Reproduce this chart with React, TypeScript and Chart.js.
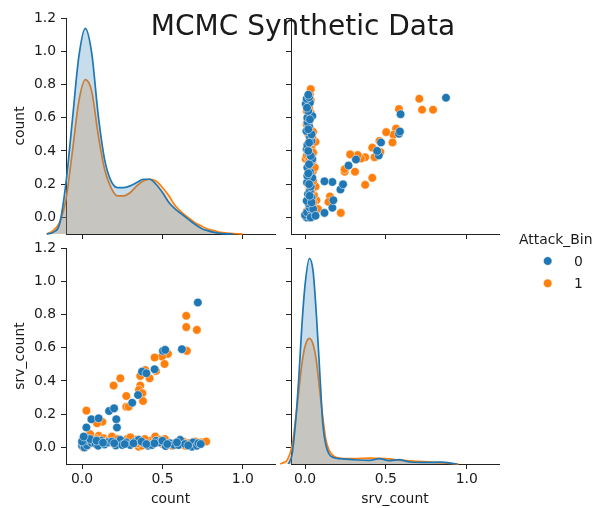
import React, { useEffect, useRef } from 'react';
import { Chart, registerables } from 'chart.js';

Chart.register(...registerables);

// ---------------- text ----------------
const TITLE = 'MCMC Synthetic Data';
const VAR_COUNT = 'count';
const VAR_SRV = 'srv_count';
const HUE_TITLE = 'Attack_Bin';
const HUE_LEVELS = ['0', '1'];

// ---------------- ticks / limits ----------------
const X_TICKS = [0, 0.5, 1.0];
const Y_TICKS = [0, 0.2, 0.4, 0.6, 0.8, 1.0, 1.2];
const COUNT_LIMITS = [-0.1, 1.2];
const SRV_LIMITS = [-0.087, 1.2];
const ROW_LIMITS = [-0.1, 1.2];

// ---------------- scatter data (Attack_Bin = 0) ----------------
const COUNT_0 = [
  0.72, 0.621, 0.503, 0.517, 0.451, 0.373, 0.4, 0.348, 0.312, 0.168, 0.199, 0.213, 0.217, 0.058, 0.103, 0.027,
  0.0, 0.005, 0.01, 0.015, 0.02, 0.025, 0.03, 0.041, 0.06, 0.083, 0.1, 0.12, 0.14, 0.16, 0.186, 0.21, 0.238,
  0.25, 0.275, 0.3, 0.33, 0.352, 0.383, 0.41, 0.435, 0.46, 0.482, 0.52, 0.548, 0.572, 0.6, 0.61, 0.64, 0.683,
  0.69, 0.714, 0.723, 0.738,
  0.05, 0.09, 0.13, 0.2, 0.265, 0.32, 0.37, 0.4, 0.45, 0.5, 0.53, 0.59, 0.66, 0.0, 0.01,
];
const SRV_0 = [
  0.872, 0.591, 0.581, 0.587, 0.47, 0.456, 0.446, 0.315, 0.269, 0.219, 0.235, 0.169, 0.12, 0.169, 0.175, 0.12,
  0.01, 0.045, 0.02, 0.0, 0.06, 0.03, 0.012, 0.04, 0.028, 0.022, 0.01, 0.04, 0.018, 0.03, 0.035, 0.012, 0.045,
  0.014, 0.03, 0.014, 0.035, 0.045, 0.025, 0.01, 0.014, 0.04, 0.03, 0.008, 0.025, 0.015, 0.014, 0.045, 0.02, 0.004,
  0.03, 0.01, 0.025, 0.02,
  0.05, 0.04, 0.028, 0.025, 0.02, 0.025, 0.035, 0.02, 0.025, 0.04, 0.02, 0.03, 0.012, 0.035, 0.065,
];

// ---------------- scatter data (Attack_Bin = 1) ----------------
const COUNT_1 = [
  0.648, 0.648, 0.714, 0.652, 0.534, 0.497, 0.451, 0.513, 0.393, 0.46, 0.362, 0.42, 0.238, 0.196, 0.362, 0.354,
  0.375, 0.379, 0.275, 0.275, 0.29, 0.027, 0.126, 0.093,
  0.0, 0.008, 0.015, 0.027, 0.035, 0.05, 0.07, 0.103, 0.134, 0.16, 0.186, 0.2, 0.22, 0.258, 0.28, 0.31, 0.333,
  0.352, 0.371, 0.4, 0.425, 0.455, 0.482, 0.5, 0.528, 0.56, 0.612, 0.63, 0.66, 0.704, 0.74, 0.772,
  0.045, 0.09, 0.12, 0.175, 0.24, 0.3, 0.345, 0.39, 0.44, 0.47, 0.515, 0.58, 0.64, 0.69, 0.005,
];
const SRV_1 = [
  0.792, 0.724, 0.707, 0.581, 0.563, 0.547, 0.541, 0.502, 0.466, 0.46, 0.43, 0.416, 0.416, 0.372, 0.372, 0.346,
  0.326, 0.279, 0.309, 0.245, 0.245, 0.221, 0.154, 0.145,
  0.02, 0.0, 0.035, 0.055, 0.01, 0.08, 0.03, 0.07, 0.055, 0.04, 0.065, 0.02, 0.05, 0.025, 0.05, 0.03, 0.045,
  0.004, 0.01, 0.03, 0.04, 0.065, 0.045, 0.02, 0.035, 0.01, 0.02, 0.035, 0.025, 0.035, 0.03, 0.035,
  0.02, 0.05, 0.025, 0.03, 0.04, 0.06, 0.025, 0.05, 0.02, 0.03, 0.05, 0.025, 0.01, 0.02, 0.045,
];

// ---------------- KDE curves (diagonal) ----------------
const COUNT_KDE_X_0 = [-0.22, -0.18, -0.14, -0.1, -0.06, -0.02, 0.02, 0.06, 0.1, 0.14, 0.18, 0.22, 0.26, 0.3, 0.34, 0.38, 0.42, 0.46, 0.5, 0.54, 0.58, 0.62, 0.66, 0.7, 0.74, 0.78, 0.82, 0.86, 0.9, 0.94];
const COUNT_KDE_Y_0 = [0, 0.01, 0.06, 0.31, 0.69, 1.07, 1.24, 1.09, 0.72, 0.45, 0.32, 0.28, 0.28, 0.29, 0.31, 0.33, 0.33, 0.3, 0.25, 0.19, 0.15, 0.12, 0.09, 0.06, 0.035, 0.02, 0.01, 0.004, 0.001, 0];
const COUNT_KDE_X_1 = [-0.22, -0.18, -0.14, -0.1, -0.06, -0.02, 0.02, 0.06, 0.1, 0.14, 0.18, 0.22, 0.26, 0.3, 0.34, 0.38, 0.42, 0.46, 0.5, 0.54, 0.58, 0.62, 0.66, 0.7, 0.74, 0.78, 0.82, 0.86, 0.9, 0.94, 0.98, 1.0];
const COUNT_KDE_Y_1 = [0, 0.02, 0.07, 0.21, 0.5, 0.8, 0.93, 0.86, 0.6, 0.39, 0.28, 0.23, 0.23, 0.25, 0.29, 0.32, 0.33, 0.32, 0.28, 0.23, 0.17, 0.13, 0.1, 0.07, 0.05, 0.03, 0.02, 0.01, 0.006, 0.003, 0.001, 0];

const SRV_KDE_X_0 = [-0.103, -0.08, -0.06, -0.04, -0.02, 0, 0.027, 0.05, 0.07, 0.09, 0.11, 0.13, 0.15, 0.18, 0.22, 0.3, 0.4, 0.46, 0.52, 0.58, 0.65, 0.72, 0.8, 0.85, 0.9, 0.94];
const SRV_KDE_Y_0 = [0, 0.06, 0.24, 0.5, 0.83, 1.08, 1.24, 1.16, 0.9, 0.57, 0.24, 0.11, 0.058, 0.038, 0.032, 0.026, 0.022, 0.032, 0.02, 0.026, 0.012, 0.01, 0.01, 0.012, 0.005, 0];
const SRV_KDE_X_1 = [-0.154, -0.13, -0.11, -0.08, -0.05, -0.02, 0, 0.027, 0.05, 0.07, 0.09, 0.11, 0.13, 0.15, 0.18, 0.22, 0.3, 0.4, 0.5, 0.6, 0.7, 0.8, 0.9, 0.95];
const SRV_KDE_Y_1 = [0, 0.01, 0.025, 0.11, 0.34, 0.6, 0.71, 0.757, 0.72, 0.62, 0.45, 0.28, 0.14, 0.08, 0.045, 0.034, 0.032, 0.036, 0.032, 0.022, 0.016, 0.01, 0.003, 0];

// ---------------- style / layout ----------------
const FIG_W = 595;
const FIG_H = 508;
const FONT = 'DejaVu Sans';
const TEXT = '#1a1a1a';
const AXIS = '#222222';
const BLUE = '#1f77b4';
const ORANGE = '#ff7f0e';
const BLUE_FILL = 'rgba(31,119,180,0.25)';
const ORANGE_FILL = 'rgba(255,127,14,0.25)';
const LABEL_FONT = { family: FONT, size: 13.9 };
const POINT_R = 4.3;

type Rect = { left: number; top: number; right: number; bottom: number };
const RECT_TL: Rect = { left: 66, top: 18, right: 275, bottom: 234 };
const RECT_TR: Rect = { left: 291, top: 18, right: 499, bottom: 234 };
const RECT_BL: Rect = { left: 66, top: 248, right: 275, bottom: 464 };
const RECT_BR: Rect = { left: 291, top: 248, right: 499, bottom: 464 };

const fmt = (v: any) => Number(v).toFixed(1);

type PanelSpec = {
  rect: Rect;
  xLim: number[];
  yLim: number[];
  xLabels: boolean;
  yLabels: boolean;
  xTitle?: string;
  yTitle?: string;
};

function axesScales(p: PanelSpec) {
  return {
    x: {
      type: 'linear',
      position: 'bottom',
      min: p.xLim[0],
      max: p.xLim[1],
      afterBuildTicks: (s: any) => {
        s.ticks = X_TICKS.map((v) => ({ value: v }));
      },
      afterFit: (s: any) => {
        s.height = FIG_H - p.rect.bottom;
      },
      grid: { display: true, drawOnChartArea: false, drawTicks: true, tickLength: 5, tickWidth: 1, tickColor: AXIS },
      border: { display: true, color: AXIS, width: 1 },
      ticks: {
        display: p.xLabels,
        padding: 2.5,
        color: TEXT,
        font: LABEL_FONT,
        maxRotation: 0,
        autoSkip: false,
        callback: fmt,
      },
      title: { display: !!p.xTitle, text: p.xTitle || '', color: TEXT, font: LABEL_FONT, padding: { top: 0, bottom: 0 } },
    },
    y: {
      type: 'linear',
      position: 'left',
      min: p.yLim[0],
      max: p.yLim[1],
      afterBuildTicks: (s: any) => {
        s.ticks = Y_TICKS.map((v) => ({ value: v }));
      },
      afterFit: (s: any) => {
        s.width = p.rect.left;
      },
      grid: { display: true, drawOnChartArea: false, drawTicks: true, tickLength: 5, tickWidth: 1, tickColor: AXIS },
      border: { display: true, color: AXIS, width: 1 },
      ticks: {
        display: p.yLabels,
        padding: 5,
        color: TEXT,
        font: LABEL_FONT,
        autoSkip: false,
        callback: fmt,
      },
      title: { display: !!p.yTitle, text: p.yTitle || '', color: TEXT, font: LABEL_FONT, padding: { top: 12, bottom: 0 } },
    },
  };
}

function scatterSet(xs: number[], ys: number[], color: string) {
  return {
    data: xs.map((x, i) => ({ x, y: ys[i] })),
    backgroundColor: color,
    borderColor: 'rgba(255,255,255,0.85)',
    borderWidth: 0.6,
    pointRadius: POINT_R,
    pointHoverRadius: POINT_R,
    clip: false,
  };
}

const decorPlugin = {
  id: 'pairDecor',
  afterDraw(chart: any) {
    const ctx = chart.ctx;
    ctx.save();
    ctx.fillStyle = TEXT;
    ctx.textAlign = 'center';
    ctx.textBaseline = 'alphabetic';
    ctx.font = `28px "${FONT}"`;
    ctx.fillText(TITLE, 303, 35);
    ctx.font = `13.9px "${FONT}"`;
    ctx.textAlign = 'left';
    ctx.fillText(HUE_TITLE, 519, 244);
    const colors = [BLUE, ORANGE];
    HUE_LEVELS.forEach((lvl, i) => {
      const cy = 261 + i * 22.3;
      ctx.beginPath();
      ctx.arc(547.7, cy, POINT_R, 0, Math.PI * 2);
      ctx.fillStyle = colors[i];
      ctx.fill();
      ctx.lineWidth = 0.6;
      ctx.strokeStyle = 'rgba(255,255,255,0.85)';
      ctx.stroke();
      ctx.fillStyle = TEXT;
      ctx.fillText(lvl, 574, cy + 5);
    });
    ctx.restore();
  },
};

function axesConfig(p: PanelSpec, datasets: any[], plugins: any[] = []) {
  return {
    type: 'scatter',
    data: { datasets },
    options: {
      responsive: false,
      animation: false,
      devicePixelRatio: 1,
      events: [],
      layout: { padding: { left: 0, top: p.rect.top, right: FIG_W - p.rect.right, bottom: 0 } },
      plugins: { legend: { display: false }, title: { display: false }, tooltip: { enabled: false } },
      scales: axesScales(p),
    },
    plugins,
  };
}

type KdeSeries = { x: number[]; y: number[]; line: string; fill: string };

function kdeConfig(rect: Rect, xLim: number[], xMin: number, series: KdeSeries[]) {
  const pxPerUnit = (rect.right - rect.left) / (xLim[1] - xLim[0]);
  const leftPx = rect.left - (xLim[0] - xMin) * pxPerUnit;
  let peak = 0;
  series.forEach((s) => s.y.forEach((v) => (peak = Math.max(peak, v))));
  return {
    type: 'line',
    data: {
      datasets: series.map((s) => ({
        data: s.x.map((x, i) => ({ x, y: s.y[i] })),
        borderColor: s.line,
        backgroundColor: s.fill,
        borderWidth: 1.7,
        pointRadius: 0,
        fill: 'origin',
        cubicInterpolationMode: 'monotone',
        clip: false,
      })),
    },
    options: {
      responsive: false,
      animation: false,
      devicePixelRatio: 1,
      events: [],
      layout: { padding: { left: leftPx, top: rect.top, right: FIG_W - rect.right, bottom: FIG_H - rect.bottom } },
      plugins: { legend: { display: false }, title: { display: false }, tooltip: { enabled: false } },
      scales: {
        x: { type: 'linear', display: false, min: xMin, max: xLim[1] },
        y: { type: 'linear', display: false, min: 0, max: peak * 1.05 },
      },
    },
  };
}

const CONFIGS: any[] = [
  // top-left: diag axes for count
  axesConfig({ rect: RECT_TL, xLim: COUNT_LIMITS, yLim: ROW_LIMITS, xLabels: false, yLabels: true, yTitle: VAR_COUNT }, []),
  // top-right: x = srv_count, y = count
  axesConfig({ rect: RECT_TR, xLim: SRV_LIMITS, yLim: ROW_LIMITS, xLabels: false, yLabels: false }, [
    scatterSet(SRV_0, COUNT_0, BLUE),
    scatterSet(SRV_1, COUNT_1, ORANGE),
  ]),
  // bottom-left: x = count, y = srv_count
  axesConfig({ rect: RECT_BL, xLim: COUNT_LIMITS, yLim: ROW_LIMITS, xLabels: true, yLabels: true, xTitle: VAR_COUNT, yTitle: VAR_SRV }, [
    scatterSet(COUNT_0, SRV_0, BLUE),
    scatterSet(COUNT_1, SRV_1, ORANGE),
  ]),
  // bottom-right: diag axes for srv_count
  axesConfig({ rect: RECT_BR, xLim: SRV_LIMITS, yLim: ROW_LIMITS, xLabels: true, yLabels: false, xTitle: VAR_SRV }, [], [decorPlugin]),
  // KDE overlays
  kdeConfig(RECT_TL, COUNT_LIMITS, -0.26, [
    { x: COUNT_KDE_X_0, y: COUNT_KDE_Y_0, line: BLUE, fill: BLUE_FILL },
    { x: COUNT_KDE_X_1, y: COUNT_KDE_Y_1, line: ORANGE, fill: ORANGE_FILL },
  ]),
  kdeConfig(RECT_BR, SRV_LIMITS, -0.2, [
    { x: SRV_KDE_X_0, y: SRV_KDE_Y_0, line: BLUE, fill: BLUE_FILL },
    { x: SRV_KDE_X_1, y: SRV_KDE_Y_1, line: ORANGE, fill: ORANGE_FILL },
  ]),
];

function ChartLayer({ config }: { config: any }) {
  const ref = useRef<HTMLCanvasElement>(null);
  useEffect(() => {
    if (!ref.current) return;
    const chart = new Chart(ref.current, config);
    return () => chart.destroy();
  }, [config]);
  return (
    <canvas
      ref={ref}
      width={FIG_W}
      height={FIG_H}
      style={{ position: 'absolute', left: 0, top: 0, width: FIG_W, height: FIG_H }}
    />
  );
}

export default function App() {
  return (
    <div style={{ position: 'absolute', left: 0, top: 0, width: FIG_W, height: FIG_H, background: '#ffffff', overflow: 'hidden' }}>
      {CONFIGS.map((c, i) => (
        <ChartLayer key={i} config={c} />
      ))}
    </div>
  );
}
